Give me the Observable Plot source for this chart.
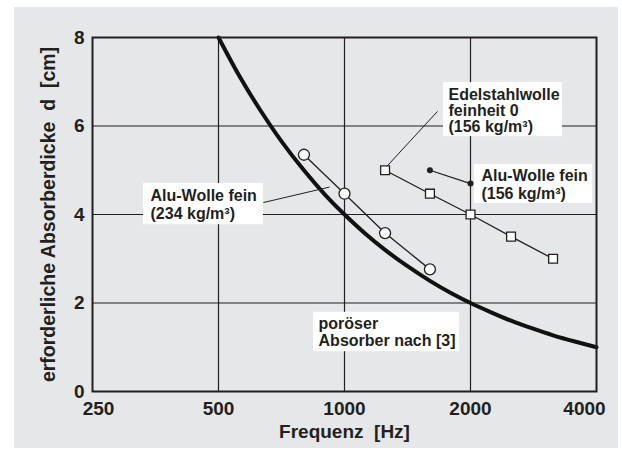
<!DOCTYPE html>
<html><head><meta charset="utf-8">
<script src="https://cdn.jsdelivr.net/npm/d3@7"></script>
<script src="https://cdn.jsdelivr.net/npm/@observablehq/plot@0.6"></script>
<style>
html,body{margin:0;padding:0;background:#fff;}
#wrap{position:relative;width:622px;height:454px;overflow:hidden;}
#bg{position:absolute;left:14px;top:7px;width:604px;height:441px;background:#e6e7e8;}
#chart{position:absolute;left:0;top:0;}
svg text{white-space:pre;}
</style></head><body>
<div id="wrap"><div id="bg"></div><div id="chart"></div></div>
<script>
// axis ticks
const xTicks = [250, 500, 1000, 2000, 4000];
const yTicks = [0, 2, 4, 6, 8];
const xGrid = [500, 1000, 2000];
const yGrid = [2, 4, 6];
const xLabel = "Frequenz  [Hz]";
const yLabel = "erforderliche Absorberdicke  d  [cm]";

// poröser Absorber nach [3]
const porousFreq = [500, 560, 630, 710, 800, 900, 1000, 1120, 1250, 1400, 1600, 1800, 2000, 2240, 2500, 2800, 3150, 3550, 4000];
const porousD    = [8.0, 7.14, 6.35, 5.63, 5.0, 4.44, 4.0, 3.57, 3.2, 2.86, 2.5, 2.22, 2.0, 1.79, 1.6, 1.43, 1.27, 1.13, 1.0];

// Alu-Wolle fein (234 kg/m³) – open circles
const alu234Freq = [800, 1000, 1250, 1600];
const alu234D    = [5.35, 4.47, 3.58, 2.76];

// Edelstahlwolle feinheit 0 (156 kg/m³) – open squares
const steelFreq = [1250, 1600, 2000, 2500, 3150];
const steelD    = [5.0, 4.47, 4.0, 3.5, 3.0];

// Alu-Wolle fein (156 kg/m³) – filled dots
const alu156Freq = [1600, 2000];
const alu156D    = [5.0, 4.7];

// annotation texts and their anchor / box / leader positions (data units)
const noteTexts   = ["Alu-Wolle fein\n(234 kg/m³)", "Edelstahlwolle\nfeinheit 0\n(156 kg/m³)", "Alu-Wolle fein\n(156 kg/m³)", "poröser\nAbsorber nach [3]"];
const noteX       = [344, 1772, 2124, 867];
const noteY       = [4.60, 6.86, 5.03, 1.69];
const noteLH      = [1.12, 1.02, 1.1, 1.08];
const boxX1       = [331, 1724, 2045, 843];
const boxX2       = [640, 3317, 3912, 1883];
const boxY1       = [3.77, 5.76, 4.25, 0.90];
const boxY2       = [4.70, 6.98, 5.13, 1.79];
const leadX1      = [640, 1668];
const leadY1      = [4.27, 6.33];
const leadX2      = [921, 1260];
const leadY2      = [4.62, 5.08];

const ink = "#231f20";
const zip = (a, b) => a.map((v, i) => ({f: v, d: b[i]}));
const porous = zip(porousFreq, porousD);
const alu234 = zip(alu234Freq, alu234D);
const steel = zip(steelFreq, steelD);
const alu156 = zip(alu156Freq, alu156D);
const boxes = boxX1.map((v, i) => ({x1: v, x2: boxX2[i], y1: boxY1[i], y2: boxY2[i]}));
const leaders = leadX1.map((v, i) => ({x1: v, y1: leadY1[i], x2: leadX2[i], y2: leadY2[i]}));

const font = "'Liberation Sans', Arial, Helvetica, sans-serif";
const noteMarks = noteTexts.map((t, i) => Plot.text([t], {
  x: () => noteX[i], y: () => noteY[i], text: d => d,
  textAnchor: "start", lineAnchor: "top", lineHeight: noteLH[i],
  fontSize: 16, fontWeight: "bold", fill: ink
}));
const fmt = d => String(d);
const axisOpts = {tickSize: 0, tickPadding: 10, fontSize: 19, fontWeight: "bold", label: null, tickFormat: fmt};

const chart = Plot.plot({
  width: 622, height: 454,
  marginLeft: 92, marginRight: 26, marginTop: 37, marginBottom: 63,
  style: {fontFamily: font, color: ink, background: "transparent", overflow: "visible"},
  x: {type: "log", base: 2, domain: [250, 4000]},
  y: {domain: [0, 8]},
  marks: [
    Plot.ruleX(xGrid, {stroke: ink, strokeWidth: 1.2}),
    Plot.ruleY(yGrid, {stroke: ink, strokeWidth: 1.2}),
    Plot.line(porous, {x: "f", y: "d", stroke: "#111", strokeWidth: 4, curve: "natural"}),
    Plot.rect(boxes, {x1: "x1", x2: "x2", y1: "y1", y2: "y2", fill: "white"}),
    ...noteMarks,
    Plot.link(leaders, {x1: "x1", y1: "y1", x2: "x2", y2: "y2", stroke: ink, strokeWidth: 1}),
    Plot.line(alu234, {x: "f", y: "d", stroke: ink, strokeWidth: 1.3}),
    Plot.line(steel, {x: "f", y: "d", stroke: ink, strokeWidth: 1.3}),
    Plot.line(alu156, {x: "f", y: "d", stroke: ink, strokeWidth: 1.3}),
    Plot.dot(alu234, {x: "f", y: "d", r: 5.5, fill: "white", stroke: ink, strokeWidth: 1.3}),
    Plot.dot(steel, {x: "f", y: "d", r: 5, symbol: "square", fill: "white", stroke: ink, strokeWidth: 1.3}),
    Plot.dot(alu156, {x: "f", y: "d", r: 3, fill: ink}),
    Plot.frame({stroke: ink, strokeWidth: 2}),
    Plot.axisX(xTicks.slice(1, -1), axisOpts),
    Plot.axisX(xTicks.slice(0, 1), {...axisOpts, dx: 6}),
    Plot.axisX(xTicks.slice(-1), {...axisOpts, dx: -12}),
    Plot.axisY(yTicks, {...axisOpts, tickPadding: 8}),
    Plot.text([xLabel], {frameAnchor: "bottom", dy: 46, textAnchor: "middle", fontSize: 19, fontWeight: "bold", fill: ink}),
    Plot.text([yLabel], {frameAnchor: "left", dx: -44, rotate: -90, textAnchor: "middle", fontSize: 19.5, fontWeight: "bold", fill: ink})
  ]
});
document.getElementById("chart").appendChild(chart);
</script>
</body></html>
